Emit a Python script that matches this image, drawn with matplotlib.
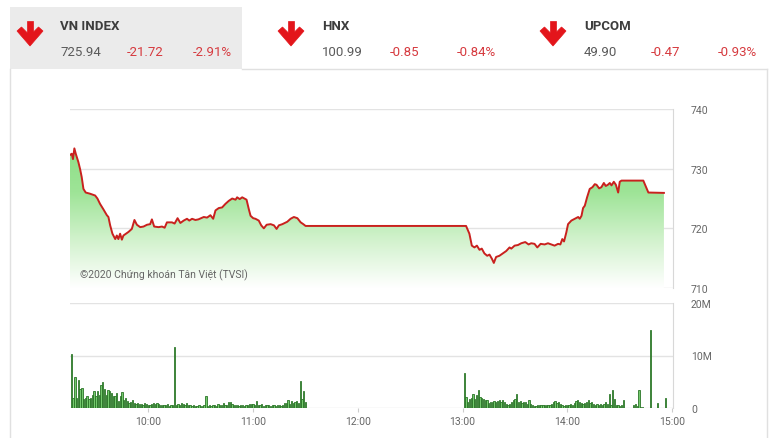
import numpy as np
import matplotlib
matplotlib.use("Agg")
import matplotlib.pyplot as plt
from matplotlib.patches import Rectangle, Polygon
from matplotlib.lines import Line2D
from matplotlib.colors import LinearSegmentedColormap

plt.rcParams['font.family'] = ['Roboto', 'DejaVu Sans']

# ---------------- data ----------------
# header
idx_names = ["VN INDEX", "HNX", "UPCOM"]
idx_values = ["725.94", "100.99", "49.90"]
idx_changes = ["-21.72", "-0.85", "-0.47"]
idx_pcts = ["-2.91%", "-0.84%", "-0.93%"]

# intraday price (minutes after 9:00, index value)
price_min = [15.2, 16.2, 16.9, 17.7, 18.5, 20.0, 21.0, 21.9, 22.9, 24.2, 26.7, 29.6, 30.9,
             32.4, 34.3, 36.3, 37.2, 38.2, 39.5, 41.1, 42.0, 42.9, 43.9, 44.9, 45.8, 46.8,
             48.7, 50.6, 52.1, 53.5, 55.4, 57.3, 59.3, 61.1, 62.1, 63.4, 65.9, 67.9, 69.4,
             70.7, 73.6, 75.1, 76.8, 78.4, 80.3, 82.2, 83.5, 85.1, 87.0, 88.7, 91.8, 93.7,
             95.6, 97.2, 98.5, 100.4, 102.3, 104.2, 106.1, 108.1, 110.0, 110.9, 112.4,
             113.8, 115.1, 116.3, 117.6, 118.6, 120.1, 121.4, 123.3, 124.7, 126.2, 127.8,
             130.1, 132.0, 133.5, 134.8, 136.8, 139.6, 141.5, 143.4, 145.4, 147.3, 148.8,
             150.1, 240.0, 242.0, 243.9, 245.3, 246.8, 248.2, 249.7, 251.0, 252.5, 254.1,
             255.4, 256.8, 257.9, 259.2, 261.1, 263.1, 265.0, 266.9, 267.9, 269.8, 271.7,
             273.6, 275.9, 277.8, 279.3, 281.2, 282.8, 284.7, 287.0, 288.9, 290.8, 292.7,
             294.7, 296.0, 297.1, 298.1, 299.4, 300.4, 302.3, 304.2, 306.2, 307.1, 308.1,
             309.0, 310.0, 311.3, 312.8, 314.4, 315.7, 316.7, 318.2, 319.5, 320.9, 322.0,
             323.2, 324.3, 325.3, 326.6, 327.8, 329.1, 330.0, 331.0, 343.5, 346.4, 355.3]
price_val = [732.3, 732.5, 731.6, 733.4, 732.5, 731.1, 729.9, 728.6, 726.6, 726.0, 725.8,
             725.5, 725.0, 724.1, 723.2, 722.2, 721.9, 720.5, 719.1, 718.2, 718.8, 718.2,
             719.1, 718.1, 718.8, 719.0, 719.4, 719.9, 721.4, 720.6, 720.2, 720.3, 720.6,
             720.7, 721.5, 720.3, 720.2, 720.3, 720.1, 721.0, 721.0, 720.8, 721.7, 720.9,
             721.3, 721.6, 721.3, 721.6, 721.4, 721.5, 721.9, 721.8, 722.2, 721.6, 723.0,
             723.4, 723.5, 724.1, 724.6, 725.0, 724.8, 725.2, 724.9, 725.2, 725.0, 724.8,
             723.2, 722.1, 721.7, 721.6, 721.3, 720.5, 720.0, 720.6, 720.7, 720.5, 719.9,
             720.5, 720.7, 721.1, 721.6, 721.9, 721.7, 721.0, 720.7, 720.4, 720.4, 720.4,
             719.1, 717.1, 716.8, 717.1, 716.4, 716.6, 715.8, 715.4, 715.6, 714.9, 714.2,
             715.2, 715.4, 715.8, 716.2, 716.8, 716.6, 717.1, 717.2, 717.5, 717.7, 717.3,
             717.5, 717.4, 716.8, 717.4, 717.3, 717.5, 717.3, 717.1, 717.4, 717.3, 718.2,
             717.8, 719.3, 720.7, 721.3, 721.6, 721.9, 721.6, 722.1, 723.4, 723.8, 725.2,
             726.6, 726.9, 727.4, 727.3, 726.7, 726.9, 727.6, 727.1, 727.3, 727.6, 727.2,
             727.8, 727.3, 726.0, 727.8, 728.0, 728.0, 726.0, 725.94]

# volume (millions of shares), one bar per minute
vol_morning_start = 16     # 9:16
vol_morning = [10.2, 2.0, 6.0, 2.0, 5.4, 3.7, 3.8, 1.8, 2.0, 2.2, 1.8, 1.9, 2.4, 3.3, 2.2,
               3.2, 2.4, 4.4, 4.9, 3.7, 2.5, 3.5, 3.2, 2.8, 2.2,
               2.2, 2.8, 1.3, 2.2, 3.0, 1.6, 1.9, 1.3, 0.9, 1.1, 1.6, 0.9, 0.8, 1.0, 0.7,
               0.8, 0.6, 0.9, 0.7, 0.5, 0.6, 0.8, 0.9, 0.7, 1.0, 0.8, 0.6, 0.5, 0.6, 0.5,
               0.7, 0.4, 0.5, 0.6,
               11.7,
               0.6, 0.8, 0.5, 1.0, 0.7, 0.6, 0.9, 0.6, 0.5, 0.4, 0.5, 0.3, 0.4, 0.6, 0.4,
               0.3, 0.5,
               2.2,
               0.4, 0.5, 0.4, 0.6, 0.5, 0.4, 0.7, 0.5, 0.6, 0.9, 0.5, 0.6, 1.2, 1.1, 0.8,
               0.6, 0.5,
               0.5, 0.4, 0.6, 0.5, 0.3, 0.5, 0.6, 0.8, 0.7, 0.8, 0.6, 1.3, 0.6, 0.5, 0.7,
               0.4, 0.5, 0.6, 0.5, 0.4, 0.6, 0.5, 0.4, 0.6, 0.5, 0.4, 0.5, 0.9, 1.0,
               1.6, 0.8, 1.4, 1.0, 1.2, 1.4, 1.0, 5.1, 1.8, 3.2, 1.2]
vol_afternoon_start = 241  # 13:01
vol_afternoon = [6.7, 2.1, 1.1, 1.8, 1.9, 2.7, 1.8, 2.4, 3.4, 2.1,
                 1.9, 1.8, 1.6, 1.5, 1.0, 1.1, 1.1, 1.3, 1.1, 1.3,
                 1.5, 1.1, 1.5, 1.1, 0.8, 0.6, 0.8, 1.1, 1.5, 1.8,
                 2.7, 1.1, 1.3, 1.0, 1.1, 1.1, 0.8, 1.5, 0.8, 0.6,
                 0.4, 0.4, 0.6, 0.5, 0.5, 0.6, 0.5, 0.6, 0.5, 0.6,
                 0.8, 1.1, 1.3, 1.0, 1.1, 0.8, 0.6, 0.4, 0.5, 0.6,
                 0.5, 0.8, 0.6, 1.0, 1.3, 1.5, 1.1, 1.0, 0.8, 1.0,
                 1.1, 1.5, 1.0, 1.1, 0.8, 0.6, 0.8, 0.6, 0.8, 0.6,
                 0.8, 1.1, 0.8, 2.7, 0.6, 3.5, 1.8, 0.5, 0.6, 0.4,
                 0.6, 1.5]
vol_late_min = [338, 339, 340, 341, 342, 343, 347.5, 351.5, 356.3]
vol_late = [0.6, 0.8, 0.4, 3.5, 0.2, 0.1, 14.9, 1.0, 2.0]

time_ticks = [60, 120, 180, 240, 300, 360]
time_labels = ["10:00", "11:00", "12:00", "13:00", "14:00", "15:00"]
price_ticks = [710, 720, 730, 740]
vol_ticks = [0, 10, 20]
vol_labels = ["0", "10M", "20M"]
copyright_text = "©2020 Chứng khoán Tân Việt (TVSI)"

# ---------------- figure ----------------
W, H = 780, 439
fig = plt.figure(figsize=(W / 100, H / 100), dpi=100)
fig.patch.set_facecolor("white")


def fx(px):
    return px / W


def fy(py):
    return 1 - py / H


GRID = "#e3e3e3"
TXT = "#666666"
RED = "#d63a3f"

# header box + outer frame
fig.add_artist(Rectangle((fx(10), fy(70)), fx(242) - fx(10), fy(8) - fy(70),
                         transform=fig.transFigure, facecolor="#ebebeb", edgecolor="none", zorder=0))
for (x0, y0, x1, y1) in [(242, 70, 767, 70), (10, 70, 10, 439), (767, 70, 767, 439)]:
    fig.add_artist(Line2D([fx(x0), fx(x1)], [fy(y0), fy(y1)], transform=fig.transFigure,
                          color="#e0e0e0", lw=1, zorder=0))

# header arrows and texts
arrow_cx = [30, 291, 553]
title_x = [60, 322, 584]
value_x = [60, 322, 584]
change_x = [127, 390, 651]
pct_x = [193, 457, 718]


def draw_arrow(cx):
    top, bot = 22, 47
    shaft = [(cx - 3, top), (cx + 3, top), (cx + 3, 39), (cx - 3, 39)]
    head = [(cx - 13, 32), (cx - 8.5, 28), (cx, 36.5), (cx + 8.5, 28), (cx + 13, 32), (cx, bot)]
    for pts in (shaft, head):
        fig.add_artist(Polygon([(fx(a), fy(b)) for a, b in pts], closed=True,
                               transform=fig.transFigure, facecolor="#e3151b",
                               edgecolor="#e3151b", lw=0.5, zorder=2))


for i in range(3):
    draw_arrow(arrow_cx[i])
    fig.text(fx(title_x[i]), fy(26), idx_names[i], fontsize=9.5, fontweight="bold",
             color="#3d3d3d", ha="left", va="center")
    fig.text(fx(value_x[i]), fy(52.5), idx_values[i], fontsize=9.5, color="#5a5a5a",
             ha="left", va="center")
    fig.text(fx(change_x[i]), fy(52.5), idx_changes[i], fontsize=9.5, color=RED,
             ha="left", va="center")
    fig.text(fx(pct_x[i]), fy(52.5), idx_pcts[i], fontsize=9.5, color=RED,
             ha="left", va="center")

XMIN, XMAX = 15.2, 360.5

# ---------------- price panel ----------------
axp = fig.add_axes([fx(70), fy(289), fx(673) - fx(70), fy(110) - fy(289)])
axp.set_xlim(XMIN, XMAX)
axp.set_ylim(710, 740)
for s in ["left", "top", "bottom"]:
    axp.spines[s].set_visible(False)
axp.spines["right"].set_color("#d8d8d8")
axp.set_yticks(price_ticks)
axp.yaxis.tick_right()
axp.tick_params(axis="y", length=0, pad=13, labelsize=7.5, labelcolor=TXT)
axp.set_xticks([])
axp.grid(axis="y", color=GRID, lw=1)
axp.set_axisbelow(True)

pm = np.array(price_min)
pv = np.array(price_val)
poly = axp.fill_between(pm, pv, 710, facecolor="none", edgecolor="none")
cmap = LinearSegmentedColormap.from_list("g", ["#ffffff", "#d2f2cd", "#9ee497", "#8ddf86"])
grad = np.linspace(0, 1, 256).reshape(-1, 1)
img = axp.imshow(grad, extent=[XMIN, XMAX, 710, 734], origin="lower", aspect="auto",
                 cmap=cmap, zorder=1)
img.set_clip_path(poly.get_paths()[0], transform=axp.transData)
axp.set_xlim(XMIN, XMAX)
axp.set_ylim(710, 740)
axp.plot(pm, pv, color="#c9211e", lw=1.4, zorder=3)
axp.text(0.017, 0.045, copyright_text, transform=axp.transAxes, fontsize=7.5,
         color="#666666", ha="left", va="bottom", zorder=4)

# ---------------- volume panel ----------------
axv = fig.add_axes([fx(70), fy(409), fx(673) - fx(70), fy(304) - fy(409)])
axv.set_xlim(XMIN, XMAX)
axv.set_ylim(0, 20)
for s in ["left", "top", "bottom"]:
    axv.spines[s].set_visible(False)
axv.spines["right"].set_color("#d8d8d8")
axv.set_yticks(vol_ticks)
axv.set_yticklabels(vol_labels)
axv.yaxis.tick_right()
axv.tick_params(axis="y", length=0, pad=13, labelsize=7.5, labelcolor=TXT)
axv.set_xticks(time_ticks)
axv.set_xticklabels(time_labels)
axv.tick_params(axis="x", length=3, color="#cccccc", labelsize=7.5, labelcolor=TXT, pad=3)
axv.grid(axis="y", color=GRID, lw=1)
axv.set_axisbelow(True)

mx = np.arange(len(vol_morning)) + vol_morning_start
ax_ = np.arange(len(vol_afternoon)) + vol_afternoon_start
for xs, ys in [(mx, vol_morning), (ax_, vol_afternoon), (np.array(vol_late_min), vol_late)]:
    axv.bar(xs, ys, width=0.75, facecolor="#74c96d", edgecolor="#2a7427", lw=0.6, zorder=3)

fig.savefig("out.png", dpi=100)
